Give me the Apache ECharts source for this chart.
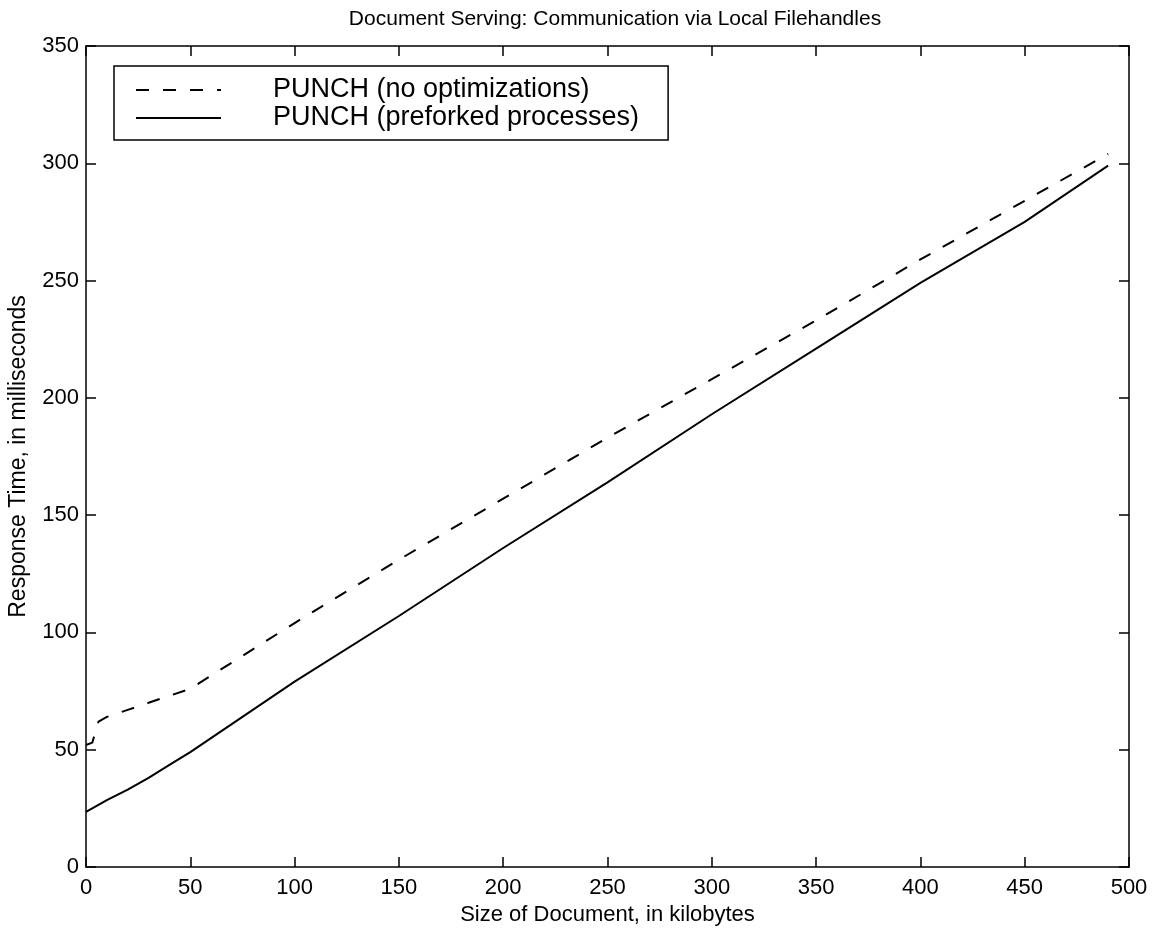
<!DOCTYPE html>
<html>
<head>
<meta charset="utf-8">
<script src="https://cdn.jsdelivr.net/npm/echarts@6/dist/echarts.min.js"></script>
<style>
  html, body { margin: 0; padding: 0; background: #fff; }
  #chart { width: 1161px; height: 933px; }
</style>
</head>
<body>
<div id="chart"></div>
<script>
// 数据
const sizesNoOpt = [0, 3, 6, 10, 20, 30, 40, 50, 75, 100, 150, 200, 250, 300, 350, 400, 450, 490];
const timesNoOpt = [52, 53, 62, 64, 67, 70, 73, 76, 90, 104, 131, 157, 183, 208, 233, 259, 284, 304];

const sizesPreforked = [0, 10, 20, 30, 40, 50, 100, 150, 200, 250, 300, 350, 400, 450, 490];
const timesPreforked = [23.5, 28.5, 33, 38, 43.5, 49, 79, 107, 136, 164, 193, 221, 249, 275, 299];

const seriesNames = ['PUNCH (no optimizations)', 'PUNCH (preforked processes)'];
const xTicks = { min: 0, max: 500, interval: 50 };
const yTicks = { min: 0, max: 350, interval: 50 };

const font = 'Liberation Sans, Arial, Helvetica, sans-serif';

function pairs(xs, ys) {
    return xs.map((x, i) => [x, ys[i]]);
}

const chart = echarts.init(document.getElementById('chart'));

const plainAxis = {
    axisLine: { show: true, onZero: false, lineStyle: { color: '#000', width: 1.5 } },
    axisTick: { show: true, inside: true, length: 10, lineStyle: { color: '#000', width: 1.5 } },
    splitLine: { show: false }
};

const option = {
    backgroundColor: '#fff',
    animation: false,
    title: {
        text: 'Document Serving: Communication via Local Filehandles',
        left: 610,
        textAlign: 'center',
        top: 4,
        textStyle: { fontFamily: font, fontSize: 21, fontWeight: 'normal', color: '#000' }
    },
    grid: { left: 86, right: 32, top: 46, bottom: 66, containLabel: false, outerBoundsMode: 'none' },
    legend: {
        orient: 'vertical',
        left: 114,
        top: 66,
        padding: [10, 29, 8, 21],
        itemWidth: 85,
        itemHeight: 14,
        itemGap: 0,
        borderColor: '#000',
        borderWidth: 1.5,
        borderRadius: 0,
        backgroundColor: '#fff',
        itemStyle: { opacity: 0 },
        textStyle: {
            fontFamily: font, fontSize: 27, color: '#000',
            lineHeight: 28, padding: [0, 0, 0, 47]
        },
        data: seriesNames
    },
    xAxis: [
        Object.assign({}, plainAxis, {
            type: 'value',
            min: xTicks.min, max: xTicks.max, interval: xTicks.interval,
            position: 'bottom',
            name: 'Size of Document, in kilobytes',
            nameLocation: 'middle',
            nameGap: 37,
            nameTextStyle: { fontFamily: font, fontSize: 22, color: '#000' },
            axisLabel: { fontFamily: font, fontSize: 22, color: '#000', margin: 10 }
        }),
        Object.assign({}, plainAxis, {
            type: 'value',
            min: xTicks.min, max: xTicks.max, interval: xTicks.interval,
            position: 'top',
            axisLabel: { show: false }
        })
    ],
    yAxis: [
        Object.assign({}, plainAxis, {
            type: 'value',
            min: yTicks.min, max: yTicks.max, interval: yTicks.interval,
            position: 'left',
            name: 'Response Time, in milliseconds',
            nameLocation: 'middle',
            nameGap: 56,
            nameTextStyle: { fontFamily: font, fontSize: 23, color: '#000' },
            axisLabel: { fontFamily: font, fontSize: 22, color: '#000', margin: 7 }
        }),
        Object.assign({}, plainAxis, {
            type: 'value',
            min: yTicks.min, max: yTicks.max, interval: yTicks.interval,
            position: 'right',
            axisLabel: { show: false }
        })
    ],
    series: [
        {
            name: seriesNames[0],
            type: 'line',
            data: pairs(sizesNoOpt, timesNoOpt),
            showSymbol: false,
            symbol: 'none',
            itemStyle: { color: '#000' },
            lineStyle: { color: '#000', width: 2, type: [13, 14] }
        },
        {
            name: seriesNames[1],
            type: 'line',
            data: pairs(sizesPreforked, timesPreforked),
            showSymbol: false,
            symbol: 'none',
            itemStyle: { color: '#000' },
            lineStyle: { color: '#000', width: 2, type: 'solid' }
        }
    ]
};

chart.setOption(option);

window.addEventListener('resize', () => {
    chart.resize();
});
</script>
</body>
</html>
